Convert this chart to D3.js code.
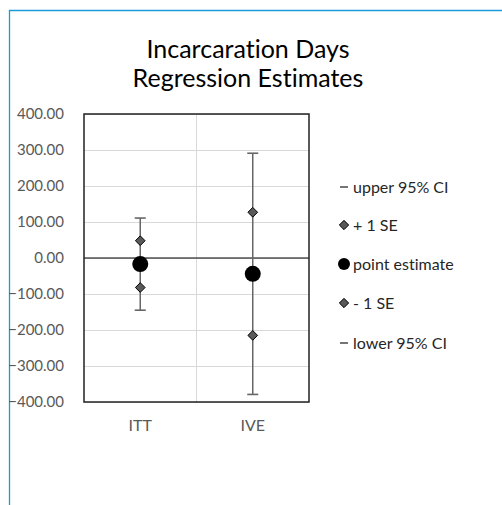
<!DOCTYPE html>
<html>
<head>
<meta charset="utf-8">
<script src="https://cdn.jsdelivr.net/npm/d3@7"></script>
<style>
  body { margin: 0; background: #fff; }
  text { font-family: Lato, "Open Sans", sans-serif; font-variant-ligatures: none; }
</style>
</head>
<body>
<div id="chart"></div>
<script>
// data
let categories = ["ITT", "IVE"];
let upperCI = [111, 291];
let plusSE = [48, 127];
let pointEst = [-17, -44];
let minusSE = [-82, -215];
let lowerCI = [-145, -379];
let yTicks = [-400, -300, -200, -100, 0, 100, 200, 300, 400];
let legendNames = ["upper 95% CI", "+ 1 SE", "point estimate", "- 1 SE", "lower 95% CI"];

let width = 502, height = 505;
let plot = { left: 84, top: 114, right: 309, bottom: 402 };

let svg = d3.select('#chart').append('svg')
  .attr('width', width)
  .attr('height', height);

// blue frame (chart object border)
svg.append('path')
  .attr('d', 'M9.5,505 L9.5,10.5 L502,10.5')
  .attr('fill', 'none')
  .attr('stroke', '#1a9bd7')
  .attr('stroke-width', 1.3);

let x = d3.scaleBand()
  .domain(categories)
  .range([plot.left, plot.right]);

let y = d3.scaleLinear()
  .domain([-400, 400])
  .range([plot.bottom, plot.top]);

// horizontal gridlines
svg.append('g')
  .attr('transform', 'translate(' + plot.left + ',0)')
  .call(d3.axisLeft(y).tickValues(yTicks).tickSize(-(plot.right - plot.left)).tickFormat(''))
  .call(g => g.select('.domain').remove())
  .call(g => g.selectAll('line').attr('stroke', '#d9d9d9').attr('stroke-width', 1));

// vertical gridline between categories
svg.append('line')
  .attr('x1', x('IVE')).attr('x2', x('IVE'))
  .attr('y1', plot.top).attr('y2', plot.bottom)
  .attr('stroke', '#d9d9d9');

// zero line
svg.append('line')
  .attr('x1', plot.left).attr('x2', plot.right)
  .attr('y1', y(0)).attr('y2', y(0))
  .attr('stroke', '#000').attr('stroke-width', 1.2);

// plot border
svg.append('rect')
  .attr('x', plot.left).attr('y', plot.top)
  .attr('width', plot.right - plot.left)
  .attr('height', plot.bottom - plot.top)
  .attr('fill', 'none')
  .attr('stroke', '#222')
  .attr('stroke-width', 1.5);

// y labels
svg.append('g')
  .attr('transform', 'translate(' + (plot.left - 17) + ',0)')
  .call(d3.axisLeft(y).tickValues(yTicks).tickSize(0).tickFormat(d3.format('.2f')))
  .call(g => g.select('.domain').remove())
  .call(g => g.selectAll('text')
    .attr('fill', '#595959')
    .style('font-size', '15px')
    .style('font-family', 'Lato, sans-serif'));

// x labels
svg.append('g')
  .attr('transform', 'translate(0,' + (plot.bottom + 15) + ')')
  .call(d3.axisBottom(x).tickSize(0))
  .call(g => g.select('.domain').remove())
  .call(g => g.selectAll('text')
    .attr('fill', '#595959')
    .style('font-size', '16px')
    .style('font-family', 'Lato, sans-serif'));

let rows = categories.map((c, i) => ({
  cat: c, upper: upperCI[i], plus: plusSE[i], point: pointEst[i], minus: minusSE[i], lower: lowerCI[i]
}));

let marks = svg.append('g');
let cx = d => x(d.cat) + x.bandwidth() / 2;

// whisker from lower to upper CI
marks.selectAll('.whisker')
  .data(rows).enter()
  .append('line').classed('whisker', true)
  .attr('x1', cx).attr('x2', cx)
  .attr('y1', d => y(d.upper)).attr('y2', d => y(d.lower))
  .attr('stroke', '#666').attr('stroke-width', 1.5);

// caps (upper / lower CI dash markers)
['upper', 'lower'].forEach(k => {
  marks.selectAll('.cap-' + k)
    .data(rows).enter()
    .append('line')
    .attr('x1', d => cx(d) - 5.5).attr('x2', d => cx(d) + 5.5)
    .attr('y1', d => y(d[k])).attr('y2', d => y(d[k]))
    .attr('stroke', '#666').attr('stroke-width', 1.6);
});

let diamond = d3.symbol().type(d3.symbolDiamond2).size(60);

['plus', 'minus'].forEach(k => {
  marks.selectAll('.se-' + k)
    .data(rows).enter()
    .append('path')
    .attr('d', diamond)
    .attr('transform', d => 'translate(' + cx(d) + ',' + y(d[k]) + ')')
    .attr('fill', '#595959')
    .attr('stroke', '#000')
    .attr('stroke-width', 1);
});

marks.selectAll('.pt')
  .data(rows).enter()
  .append('circle')
  .attr('cx', cx).attr('cy', d => y(d.point))
  .attr('r', 8)
  .attr('fill', '#000');

// title
let titleLines = ['Incarcaration Days', 'Regression Estimates'];
svg.append('g').selectAll('text')
  .data(titleLines).enter()
  .append('text')
  .attr('x', 248).attr('y', (d, i) => 58 + i * 29)
  .attr('text-anchor', 'middle')
  .style('font-size', '25px')
  .attr('fill', '#000')
  .text(d => d);

// legend
let legendY = [187, 225, 264, 303, 343];
let legend = svg.append('g');
legendNames.forEach((name, i) => {
  let g = legend.append('g').attr('transform', 'translate(344,' + legendY[i] + ')');
  if (i === 0 || i === 4) {
    g.append('line').attr('x1', -4).attr('x2', 4)
      .attr('stroke', '#666').attr('stroke-width', 1.8);
  } else if (i === 2) {
    g.append('circle').attr('r', 6).attr('fill', '#000');
  } else {
    g.append('path').attr('d', d3.symbol().type(d3.symbolDiamond2).size(55))
      .attr('fill', '#595959').attr('stroke', '#000');
  }
  g.append('text')
    .attr('x', 9).attr('dy', '0.35em')
    .style('font-size', '16px')
    .attr('fill', '#262626')
    .text(name);
});
</script>
</body>
</html>
